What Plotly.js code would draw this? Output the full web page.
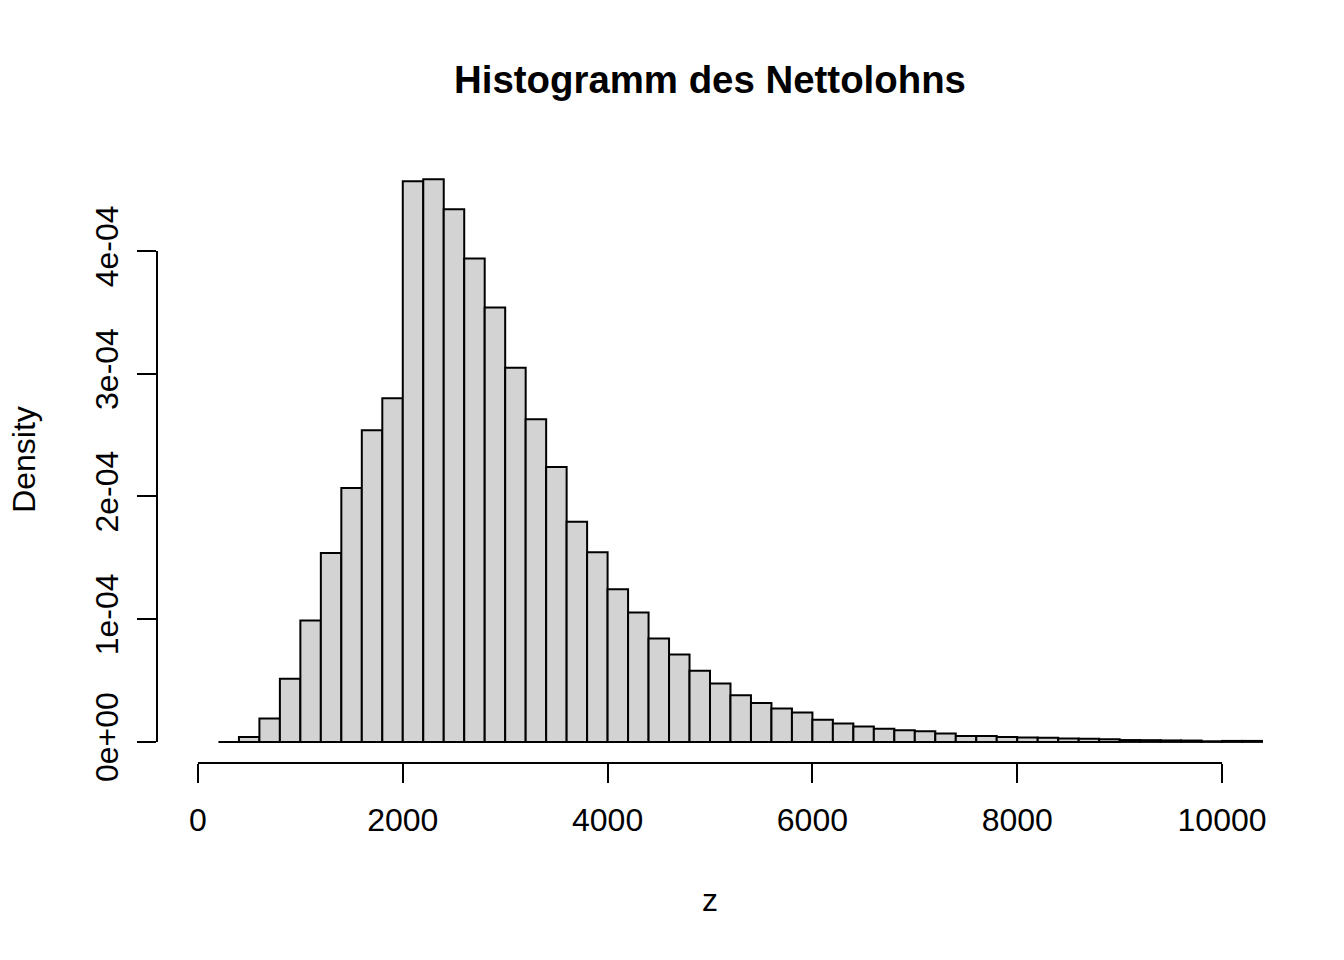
<!DOCTYPE html>
<html>
<head>
<meta charset="utf-8">
<script src="https://cdn.plot.ly/plotly-3.0.1.min.js"></script>
<style>html,body{margin:0;padding:0;background:#fff;}#chart{width:1344px;height:960px;}</style>
</head>
<body>
<div id="chart"></div>
<script>
// Histogram bins: left edge of first bin and bin width
const binStart = 200;
const binWidth = 200;
// Density of each bin
const density = [
  0.000e-4, 0.040e-4, 0.190e-4, 0.515e-4, 0.990e-4,
  1.540e-4, 2.070e-4, 2.540e-4, 2.800e-4, 4.570e-4,
  4.585e-4, 4.340e-4, 3.940e-4, 3.540e-4, 3.050e-4,
  2.630e-4, 2.240e-4, 1.795e-4, 1.545e-4, 1.245e-4,
  1.055e-4, 0.843e-4, 0.712e-4, 0.580e-4, 0.475e-4,
  0.381e-4, 0.318e-4, 0.272e-4, 0.240e-4, 0.180e-4,
  0.150e-4, 0.125e-4, 0.108e-4, 0.095e-4, 0.087e-4,
  0.068e-4, 0.049e-4, 0.049e-4, 0.040e-4, 0.036e-4,
  0.033e-4, 0.027e-4, 0.025e-4, 0.022e-4, 0.015e-4,
  0.014e-4, 0.012e-4, 0.011e-4, 0.005e-4, 0.008e-4,
  0.008e-4
];
const xTickVals = [0, 2000, 4000, 6000, 8000, 10000];
const xTickText = ["0", "2000", "4000", "6000", "8000", "10000"];
const yTickVals = [0, 1e-4, 2e-4, 3e-4, 4e-4];
const yTickText = ["0e+00", "1e-04", "2e-04", "3e-04", "4e-04"];
const titleText = "Histogramm des Nettolohns";
const xLabel = "z";
const yLabel = "Density";

const binCenters = density.map((_, i) => binStart + binWidth * (i + 0.5));
const FONT = "Liberation Sans, Arial, Helvetica, sans-serif";

const trace = {
  type: "bar",
  x: binCenters,
  y: density,
  width: binWidth,
  marker: { color: "#D3D3D3", line: { color: "#000000", width: 2 } },
  hoverinfo: "x+y"
};

const layout = {
  width: 1344, height: 960,
  margin: { l: 157, r: 81, t: 156, b: 197, pad: 0 },
  paper_bgcolor: "#ffffff", plot_bgcolor: "#ffffff",
  showlegend: false,
  bargap: 0,
  font: { family: FONT, size: 32, color: "#000000" },
  title: {
    text: "<b>" + titleText + "</b>",
    font: { family: FONT, size: 38.4, color: "#000000" },
    x: 0.5, xref: "paper", xanchor: "center",
    y: 1 - 80 / 960, yref: "container", yanchor: "middle"
  },
  xaxis: {
    range: [-400, 10400],
    showgrid: false, zeroline: false, showline: false,
    ticks: "outside", ticklen: 19, tickwidth: 2, tickcolor: "#000000",
    tickmode: "array", tickvals: xTickVals, ticktext: xTickText,
    tickfont: { family: FONT, size: 32, color: "#000000" },
    ticklabelstandoff: 10,
    title: { text: xLabel, font: { family: FONT, size: 32, color: "#000000" }, standoff: 51 },
    fixedrange: true
  },
  yaxis: {
    range: [-0.172e-4, 4.775e-4],
    showgrid: false, zeroline: false, showline: false,
    ticks: "outside", ticklen: 19, tickwidth: 2, tickcolor: "#000000",
    tickmode: "array", tickvals: yTickVals, ticktext: yTickText,
    tickangle: -90,
    tickfont: { family: FONT, size: 32, color: "#000000" },
    ticklabelstandoff: 6,
    title: { text: yLabel, font: { family: FONT, size: 32, color: "#000000" }, standoff: 44 },
    fixedrange: true
  },
  shapes: [
    { type: "line", xref: "x", yref: "paper", x0: xTickVals[0], x1: xTickVals[xTickVals.length - 1], y0: 0, y1: 0,
      line: { color: "#000000", width: 2 } },
    { type: "line", xref: "paper", yref: "y", x0: 0, x1: 0, y0: yTickVals[0], y1: yTickVals[yTickVals.length - 1],
      line: { color: "#000000", width: 2 } }
  ]
};

Plotly.newPlot("chart", [trace], layout, { displayModeBar: false, staticPlot: true });
</script>
</body>
</html>
